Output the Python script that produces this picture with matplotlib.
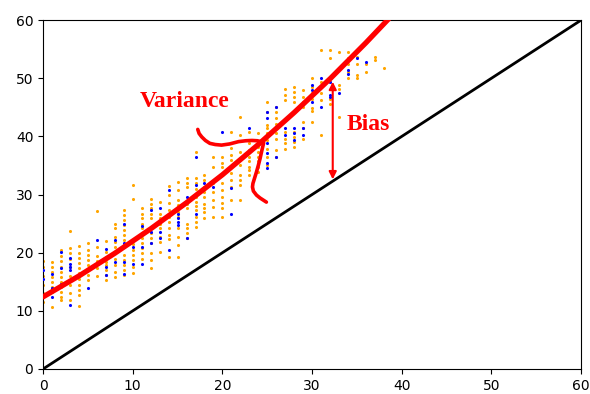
import matplotlib
matplotlib.use("Agg")
import matplotlib.pyplot as plt
import numpy as np

# ---- data ----
orange_y_by_x = [
    [11.5, 13.0, 14.5, 16.0, 17.5, 18.5],
    [18.4, 17.5, 16.7, 15.8, 14.9, 14.1, 13.2, 10.6],
    [20.5, 19.4, 18.5, 17.5, 16.7, 15.8, 14.9, 14.1, 13.2, 12.4, 11.9],
    [23.8, 20.8, 19.9, 19.0, 17.5, 16.0, 14.5, 13.0, 11.9],
    [21.2, 20.0, 19.1, 18.2, 17.4, 16.5, 15.4, 14.5, 13.6, 12.7, 10.8],
    [21.6, 20.5, 19.6, 18.7, 17.9, 17.0, 16.1, 15.3],
    [27.2, 21.0, 19.5, 18.5, 17.4, 16.0],
    [22.0, 20.1, 19.3, 18.4, 17.9, 17.0, 16.1, 15.3],
    [25.0, 24.2, 22.7, 21.9, 21.0, 19.9, 19.0, 17.9, 16.7, 15.8],
    [27.3, 26.5, 25.6, 24.7, 23.9, 23.0, 22.2, 19.6, 18.7, 17.9, 17.0, 16.2],
    [31.6, 29.3, 21.5, 20.5, 19.6, 18.7, 17.5, 16.5],
    [27.6, 26.7, 25.9, 25.0, 24.2, 23.3, 22.5, 21.6, 20.8, 19.9, 19.0],
    [29.3, 28.4, 27.6, 26.7, 25.9, 23.3, 22.5, 21.6, 19.9, 18.7, 17.3],
    [28.7, 26.7, 25.9, 25.0, 24.2, 22.7, 21.9, 20.2],
    [31.4, 30.0, 28.5, 27.3, 26.1, 25.3, 24.2, 23.0, 22.4, 19.3],
    [32.2, 30.8, 29.0, 28.2, 27.0, 26.1, 24.2, 22.7, 21.3, 19.3],
    [32.8, 31.9, 31.3, 28.4, 27.6, 25.0, 24.2, 23.3, 22.5],
    [37.4, 32.8, 31.9, 31.0, 29.6, 28.7, 28.1, 27.3, 26.1, 25.3, 24.5],
    [33.3, 32.5, 31.3, 30.5, 29.6, 28.4, 27.6, 27.0, 25.9],
    [36.5, 34.8, 31.9, 30.5, 29.0, 27.9, 26.1],
    [36.5, 35.5, 34.8, 33.3, 31.9, 30.8, 29.6, 28.5, 27.6, 26.1],
    [40.8, 38.0, 36.8, 36.0, 34.8, 33.7, 32.5, 31.3, 29.0],
    [43.4, 40.2, 37.4, 36.2, 35.1, 33.4, 32.5, 31.6, 29.0],
    [40.8, 38.8, 37.6, 36.5, 35.7, 34.8, 34.2, 33.4],
    [40.5, 38.2, 37.4, 36.5, 35.7, 34.8, 33.9],
    [45.9, 44.2, 41.9, 41.4, 40.5, 39.4, 37.9, 36.5, 35.1],
    [45.1, 44.2, 43.1, 42.2, 41.4, 40.5, 39.6, 37.6, 36.5],
    [48.2, 47.1, 46.2, 40.8, 39.6, 38.8, 37.9],
    [48.5, 47.6, 46.8, 45.9, 40.8, 39.9, 39.1, 38.2],
    [47.9, 46.8, 45.9, 45.1, 42.5, 41.4, 39.6],
    [50.0, 48.5, 47.4, 46.5, 44.8, 44.3, 42.5],
    [54.8, 49.4, 48.5, 47.4, 46.2, 40.2],
    [54.8, 53.4, 50.2, 49.4, 46.5, 45.6],
    [54.5, 48.8, 48.2, 43.4],
    [54.5, 53.4, 52.5, 51.1, 50.0],
    [53.7, 52.5, 50.5, 50.0],
    [52.5, 51.1],
    [53.7, 53.1],
    [51.8],
]

blue_y_by_x = {
    0: [15.5, 17.0], 1: [16.3, 14.0, 12.4], 2: [20.2, 17.3, 14.7],
    3: [19.1, 18.1, 17.5, 17.0, 11.0], 5: [14.0], 6: [22.1],
    7: [20.6, 17.5, 16.1], 8: [22.2, 18.4], 9: [24.9, 21.6, 18.4, 16.4],
    10: [21.0, 18.1], 11: [24.6, 21.0, 18.1], 12: [27.3, 23.6, 21.6],
    13: [27.6, 23.6, 22.5], 14: [30.8, 20.5], 15: [26.7, 25.9, 25.3, 24.7],
    16: [29.6, 28.7, 22.5], 17: [36.5, 31.6, 26.7], 18: [31.9], 19: [31.3],
    20: [40.8], 21: [31.1, 26.7], 23: [41.5],
    25: [44.2, 43.1, 38.8, 37.1, 35.4, 34.5], 26: [45.1, 36.5],
    27: [41.4, 40.2], 28: [41.4, 40.5, 39.4], 29: [41.4, 40.2],
    30: [48.8, 47.9, 45.9], 31: [50.0, 45.1], 32: [49.4, 47.1, 46.8],
    33: [47.4], 34: [51.4, 50.8], 35: [53.4], 36: [52.8],
}

# fitted (red) curve
curve_x = [0, 4, 8, 12, 16, 20, 24, 28, 32, 36, 40]
curve_y = [12.4, 16.0, 19.9, 24.1, 28.6, 33.4, 38.6, 44.1, 49.9, 56.1, 62.6]

# identity line
ident_x = [0, 60]
ident_y = [0, 60]

ticks = [0, 10, 20, 30, 40, 50, 60]

# bias arrow
bias_x = 32.3
bias_low, bias_high = 32.6, 49.4

# hand-drawn "variance" hook strokes
hook1_x = [17.25, 17.4, 17.7, 18.1, 18.6, 19.2, 19.9, 20.8, 21.8, 22.6, 23.3, 23.9, 24.5]
hook1_y = [41.2, 40.5, 39.9, 39.3, 38.8, 38.6, 38.5, 38.7, 39.1, 39.25, 39.3, 39.25, 39.0]
hook2_x = [24.6, 24.4, 24.2, 24.0, 23.8, 23.6, 23.4, 23.35, 23.45, 23.8, 24.2, 24.6, 24.9]
hook2_y = [38.9, 37.6, 36.2, 35.0, 33.9, 32.9, 31.9, 31.3, 30.6, 29.9, 29.4, 29.0, 28.7]

# ---- build flat arrays ----
ox, oy = [], []
for xi, ys in enumerate(orange_y_by_x):
    ox += [xi] * len(ys)
    oy += ys
bx, by = [], []
for xi, ys in blue_y_by_x.items():
    bx += [xi] * len(ys)
    by += ys

fig = plt.figure(figsize=(5.90, 3.94), dpi=100)
ax = fig.add_axes([0.073, 0.0635, 0.912, 0.8855])

ax.scatter(ox, oy, s=5, color="#ffa500", linewidths=0, zorder=2)
ax.scatter(bx, by, s=5, color="#0000ff", linewidths=0, zorder=3)
ax.plot(ident_x, ident_y, color="black", lw=2, zorder=4)
ax.plot(curve_x, curve_y, color="#ff0000", lw=3.8, zorder=5, solid_capstyle="round")
ax.plot(hook1_x, hook1_y, color="#ff0000", lw=2.6, zorder=5,
        solid_capstyle="round", solid_joinstyle="round")
ax.plot(hook2_x, hook2_y, color="#ff0000", lw=2.6, zorder=5,
        solid_capstyle="round", solid_joinstyle="round")

ax.annotate("", xy=(bias_x, bias_high), xytext=(bias_x, bias_low),
            arrowprops=dict(arrowstyle="<|-|>", color="#ff0000", lw=1.5,
                            mutation_scale=11, shrinkA=0, shrinkB=0), zorder=6)

ax.text(10.8, 46.0, "Variance", color="#ff0000", fontsize=17, fontweight="bold",
        family="Liberation Serif", va="center", ha="left")
ax.text(33.8, 42.1, "Bias", color="#ff0000", fontsize=17, fontweight="bold",
        family="Liberation Serif", va="center", ha="left")

ax.set_xlim(0, 60)
ax.set_ylim(0, 60)
ax.set_xticks(ticks)
ax.set_yticks(ticks)
ax.tick_params(labelsize=10)

fig.savefig("out.png", dpi=100)
